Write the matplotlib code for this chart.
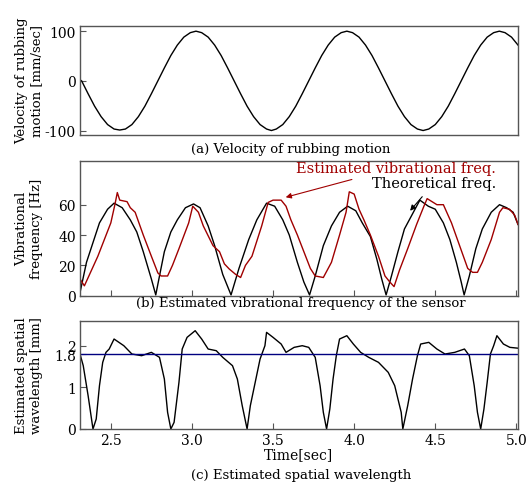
import matplotlib
matplotlib.use('Agg')
import matplotlib.pyplot as plt

### Values ###

# (a) velocity of rubbing motion [mm/sec]
vel_t = [2.31, 2.32, 2.36, 2.40, 2.44, 2.48, 2.52, 2.555, 2.59, 2.63, 2.67, 2.71, 2.75,
         2.79, 2.83, 2.87, 2.91, 2.95, 2.99, 3.025, 3.06, 3.10, 3.14, 3.18, 3.22,
         3.26, 3.30, 3.34, 3.38, 3.42, 3.46, 3.49, 3.52, 3.56, 3.60, 3.64, 3.68,
         3.72, 3.76, 3.80, 3.84, 3.88, 3.92, 3.955, 3.99, 4.03, 4.07, 4.11, 4.15,
         4.19, 4.23, 4.27, 4.31, 4.35, 4.39, 4.425, 4.46, 4.50, 4.54, 4.58, 4.62,
         4.66, 4.70, 4.74, 4.78, 4.82, 4.86, 4.895, 4.93, 4.97, 5.01]
vel_v = [2, 0, -26, -51, -72, -88, -97, -99, -97, -88, -72, -51, -26,
         0, 26, 51, 72, 88, 97, 100, 97, 88, 72, 51, 26,
         0, -26, -51, -72, -88, -97, -100, -97, -88, -72, -51, -26,
         0, 26, 51, 72, 88, 97, 100, 97, 88, 72, 51, 26,
         0, -26, -51, -72, -88, -97, -100, -97, -88, -72, -51, -26,
         0, 26, 51, 72, 88, 97, 100, 97, 88, 72]

# (b) theoretical frequency [Hz]
theo_t = [2.31, 2.314, 2.35, 2.39, 2.43, 2.48, 2.52, 2.57, 2.62, 2.66, 2.70, 2.75,
          2.777, 2.80, 2.83, 2.87, 2.91, 2.96, 3.01, 3.05, 3.10, 3.14, 3.19,
          3.241, 3.29, 3.35, 3.40, 3.46, 3.51, 3.56, 3.60, 3.65, 3.69,
          3.725, 3.76, 3.81, 3.86, 3.91, 3.96, 4.01, 4.05, 4.10, 4.14, 4.17,
          4.197, 4.23, 4.27, 4.31, 4.365, 4.405, 4.457, 4.50, 4.55, 4.59, 4.63, 4.66,
          4.678, 4.71, 4.75, 4.79, 4.845, 4.896, 4.94, 4.98, 5.01]
theo_f = [2, 4, 22, 35, 48, 57, 61, 58, 50, 42, 29, 11,
          0.5, 13, 29, 42, 50, 58, 60.5, 58, 46, 33, 14,
          0.5, 18, 37, 50, 61, 59, 50, 40, 22, 9,
          0.5, 13, 33, 46, 55, 59, 56, 48, 39, 24, 11,
          0.5, 13, 29, 44, 55, 63, 59, 57, 48, 37, 22, 9,
          0.5, 13, 31, 44, 55, 60, 58, 55, 47]

# (b) estimated vibrational frequency [Hz]
est_t = [2.31, 2.337, 2.42, 2.50, 2.525, 2.54, 2.555, 2.60, 2.62, 2.65, 2.70, 2.75,
         2.79, 2.81, 2.85, 2.88, 2.92, 2.98, 3.005, 3.04, 3.07, 3.13, 3.17, 3.20,
         3.23, 3.27, 3.30, 3.33, 3.37, 3.43, 3.47, 3.50, 3.55, 3.58, 3.61, 3.65,
         3.69, 3.73, 3.76, 3.81, 3.86, 3.91, 3.95, 3.97, 4.00, 4.03, 4.06, 4.10,
         4.15, 4.19, 4.22, 4.246, 4.28, 4.33, 4.385, 4.43, 4.45, 4.51, 4.55, 4.60,
         4.65, 4.70, 4.73, 4.76, 4.79, 4.845, 4.896, 4.917, 4.958, 4.99, 5.01]
est_f = [11, 6.5, 26, 48, 60, 68, 63, 62, 58, 55, 40, 26,
         15, 13, 13, 20, 31, 48, 59, 55, 46, 33, 29, 21,
         17.6, 14, 12, 20, 26, 46, 61.5, 63, 63, 59, 50, 40,
         29, 18, 13, 12, 22, 40, 55, 68.5, 67, 57, 50, 40,
         26, 13, 9, 6, 17, 31, 47, 59, 64, 60, 60, 48,
         33, 18, 15.4, 15.4, 22, 37, 55, 58, 57, 53, 47]

# (c) estimated spatial wavelength [mm]
wl_t = [2.31, 2.33, 2.36, 2.39, 2.41, 2.43, 2.45, 2.47, 2.49, 2.52, 2.58, 2.63,
        2.69, 2.75, 2.80, 2.83, 2.85, 2.87, 2.89, 2.92, 2.94, 2.97, 3.02, 3.06,
        3.10, 3.15, 3.19, 3.25, 3.28, 3.31, 3.34, 3.36, 3.39, 3.42, 3.45, 3.46,
        3.50, 3.55, 3.58, 3.63, 3.68, 3.72, 3.76, 3.79, 3.81, 3.83, 3.85, 3.87,
        3.89, 3.91, 3.955, 3.995, 4.04, 4.09, 4.15, 4.21, 4.25, 4.29, 4.30, 4.33,
        4.36, 4.39, 4.41, 4.46, 4.51, 4.56, 4.62, 4.68, 4.71, 4.74, 4.76, 4.78,
        4.80, 4.82, 4.84, 4.86, 4.88, 4.92, 4.96, 5.01]
wl_v = [1.80, 1.52, 0.80, 0.0, 0.24, 1.04, 1.60, 1.84, 1.92, 2.16, 2.00, 1.80,
        1.76, 1.84, 1.72, 1.20, 0.40, 0.0, 0.16, 1.12, 1.92, 2.20, 2.36, 2.16,
        1.92, 1.88, 1.72, 1.52, 1.20, 0.56, 0.0, 0.56, 1.12, 1.68, 2.00, 2.32,
        2.20, 2.04, 1.84, 1.96, 2.00, 1.96, 1.72, 1.04, 0.40, 0.0, 0.48, 1.20,
        1.76, 2.16, 2.24, 2.04, 1.84, 1.72, 1.60, 1.36, 1.04, 0.40, 0.0, 0.56,
        1.20, 1.76, 2.04, 2.08, 1.92, 1.80, 1.84, 1.92, 1.76, 1.04, 0.40, 0.0,
        0.48, 1.12, 1.80, 2.00, 2.24, 2.04, 1.96, 1.94]
wl_ref = 1.8

time_ticks = [2.5, 3.0, 3.5, 4.0, 4.5, 5.0]

### Styling ###

plt.rcParams['font.family'] = ['DejaVu Serif']
plt.rcParams['font.size'] = 10
plt.rcParams['axes.unicode_minus'] = False
red = '#a00000'
frame = '#555555'

W, H = 529.0, 489.0

def add_panel(top_px, bottom_px):
    left, right = 80.0, 518.0
    ax = fig.add_axes([left / W, 1 - bottom_px / H, (right - left) / W, (bottom_px - top_px) / H])
    for s in ax.spines.values():
        s.set_color(frame)
        s.set_linewidth(1.0)
    ax.tick_params(direction='in', length=4, width=0.8, color=frame,
                   top=False, right=False, labelsize=10, pad=3)
    ax.set_xlim(2.31, 5.01)
    ax.yaxis.set_label_coords(-0.085, 0.5)
    return ax

fig = plt.figure(figsize=(5.29, 4.89), dpi=100)

# (a) velocity
ax1 = add_panel(26.7, 135.5)
ax1.plot(vel_t, vel_v, color='black', lw=1.0)
ax1.set_ylim(-108, 111)
ax1.set_yticks([-100, 0, 100])
ax1.set_xticks([])
ax1.set_ylabel('Velocity of rubbing\nmotion [mm/sec]', fontsize=9.5, linespacing=1.2)
fig.text(291 / W, 1 - 150 / H, '(a) Velocity of rubbing motion', ha='center', va='center', fontsize=9.5)

# (b) frequency
ax2 = add_panel(161.7, 296.7)
ax2.plot(theo_t, theo_f, color='black', lw=1.0)
ax2.plot(est_t, est_f, color=red, lw=1.0)
ax2.set_ylim(0, 89)
ax2.set_yticks([0, 20, 40, 60])
ax2.set_xticks(time_ticks)
ax2.set_xticklabels([])
ax2.set_ylabel('Vibrational\nfrequency [Hz]', fontsize=9.5, linespacing=1.2)
ax2.annotate('Estimated vibrational freq.', xy=(3.578, 64.9), xytext=(4.26, 84.5),
             ha='center', va='center', color=red, fontsize=10.5,
             arrowprops=dict(arrowstyle='-|>', color=red, lw=0.8, mutation_scale=8,
                             shrinkA=6, shrinkB=0))
ax2.annotate('Theoretical freq.', xy=(4.345, 56), xytext=(4.494, 74.5),
             ha='center', va='center', color='black', fontsize=10.5,
             arrowprops=dict(arrowstyle='-|>', color='black', lw=0.8, mutation_scale=8,
                             shrinkA=4, shrinkB=0))
fig.text(301 / W, 1 - 304 / H, '(b) Estimated vibrational frequency of the sensor',
         ha='center', va='center', fontsize=9.5)

# (c) wavelength
ax3 = add_panel(321.7, 430.0)
ax3.plot(wl_t, wl_v, color='black', lw=1.0)
ax3.axhline(wl_ref, color='#000080', lw=1.0)
ax3.set_ylim(0, 2.6)
ax3.set_yticks([0, 1, 1.8, 2])
ax3.set_yticklabels(['0', '1', '1.8', '2'])
ax3.set_xticks(time_ticks)
ax3.set_xticklabels(['{:.1f}'.format(v) for v in time_ticks])
ax3.set_ylabel('Estimated spatial\nwavelength [mm]', fontsize=9.5, linespacing=1.2)
ax3.set_xlabel('Time[sec]', fontsize=10, labelpad=0)
fig.text(301 / W, 1 - 476 / H, '(c) Estimated spatial wavelength',
         ha='center', va='center', fontsize=9.5)

plt.savefig('out.png', dpi=100)
